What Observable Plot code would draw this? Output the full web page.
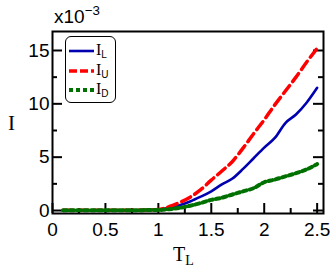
<!DOCTYPE html>
<html>
<head>
<meta charset="utf-8">
<script src="https://cdn.jsdelivr.net/npm/d3@7"></script>
<script src="https://cdn.jsdelivr.net/npm/@observablehq/plot@0.6"></script>
<style>
  html, body { margin: 0; padding: 0; background: #fff; }
  #wrap { position: relative; width: 332px; height: 274px; }
  .lbl { position: absolute; color: #000; white-space: nowrap; line-height: 1; }
  .serif { font-family: "Liberation Serif", "DejaVu Serif", serif; }
  .sans { font-family: "Liberation Sans", Arial, sans-serif; }
  #legend { position: absolute; left: 65px; top: 36px; width: 49px; height: 65px;
    border: 1.5px solid #000; border-radius: 6px; background: #fff; }
  #legend .row { position: absolute; left: 0; height: 18px; width: 49px; }
  #legend svg { position: absolute; left: 2px; top: 4px; }
  #legend .t { position: absolute; left: 30px; top: 0px; font-size: 16px; line-height: 1; }
  #legend .t sub { font-family: "Liberation Sans", Arial, sans-serif; font-size: 10px; vertical-align: -0.3em; }
  sub { font-size: 0.7em; vertical-align: -0.25em; }
  sup { font-size: 0.7em; vertical-align: 0.6em; }
</style>
</head>
<body>
<div id="wrap"></div>
<script>
const T  = [0.1,0.2,0.3,0.4,0.5,0.6,0.7,0.8,0.9,1.0,1.1,1.2,1.3,1.4,1.5,1.6,1.7,1.8,1.9,2.0,2.1,2.2,2.3,2.4,2.5];
const IL = [0.02,0.02,0.02,0.02,0.02,0.02,0.02,0.03,0.04,0.08,0.25,0.5,0.85,1.3,1.8,2.45,3.0,3.9,4.9,5.9,6.8,8.2,9.0,10.1,11.5];
const IU = [0.02,0.02,0.02,0.02,0.02,0.02,0.02,0.03,0.05,0.1,0.35,0.75,1.25,1.95,2.85,3.7,4.6,5.85,7.2,8.5,9.9,11.2,12.5,13.9,15.2];
const ID = [0.02,0.02,0.02,0.02,0.02,0.02,0.02,0.03,0.04,0.05,0.12,0.25,0.45,0.7,1.0,1.2,1.5,1.8,2.1,2.65,2.9,3.2,3.5,3.85,4.35];
const xMajor = [0,0.5,1,1.5,2,2.5];
const xMinor = [0.25,0.75,1.25,1.75,2.25];
const yMajor = [0,5,10,15];
const yMinor = [2.5,7.5,12.5];
const seriesNames = ["IL","IU","ID"];

const rows = (vals) => T.map((t,i) => ({t, v: vals[i]}));
const W = 332, H = 274, mL = 52, mR = 9, mT = 31, mB = 61;
const fh = H - mT - mB, fw = W - mL - mR;

const chart = Plot.plot({
  width: W, height: H,
  marginLeft: mL, marginRight: mR, marginTop: mT, marginBottom: mB,
  style: {fontFamily: "Liberation Sans, Arial, sans-serif", fontSize: "19px", background: "#fff", color: "#000"},
  x: {domain: [0, 2.56]},
  y: {domain: [-0.28, 16.78]},
  marks: [
    Plot.axisX(xMajor, {tickSize: 0, tickPadding: 9, label: null, tickFormat: d => String(d), fontSize: 19}),
    Plot.axisY(yMajor, {tickSize: 0, tickPadding: 3, label: null, tickFormat: d => String(d), fontSize: 19}),
    Plot.tickX(xMajor, {x: d => d, insetTop: fh - 10, stroke: "#000", strokeWidth: 2}),
    Plot.tickX(xMinor, {x: d => d, insetTop: fh - 5, stroke: "#000", strokeWidth: 2}),
    Plot.tickY(yMajor, {y: d => d, insetRight: fw - 10, stroke: "#000", strokeWidth: 2}),
    Plot.tickY(yMinor, {y: d => d, insetRight: fw - 5, stroke: "#000", strokeWidth: 2}),
    Plot.tickY(yMajor, {y: d => d, insetLeft: fw - 10, stroke: "#000", strokeWidth: 2}),
    Plot.tickY(yMinor, {y: d => d, insetLeft: fw - 5, stroke: "#000", strokeWidth: 2}),
    Plot.line(rows(IL), {x: "t", y: "v", stroke: "#0000b0", strokeWidth: 2.6, curve: "monotone-x"}),
    Plot.line(rows(IU), {x: "t", y: "v", stroke: "#ff0000", strokeWidth: 3.5, strokeDasharray: "10,5", curve: "monotone-x"}),
    Plot.line(rows(ID), {x: "t", y: "v", stroke: "#007000", strokeWidth: 4, strokeDasharray: "4,3", curve: "monotone-x"}),
    Plot.frame({stroke: "#000", strokeWidth: 2})
  ]
});

const wrap = document.getElementById("wrap");
wrap.appendChild(chart);

function addLabel(html, cls, left, top, size) {
  const d = document.createElement("div");
  d.className = "lbl " + cls;
  d.style.left = left + "px"; d.style.top = top + "px"; d.style.fontSize = size + "px";
  d.innerHTML = html;
  wrap.appendChild(d);
}
addLabel("x10<sup>&minus;3</sup>", "sans", 54, 4, 19);
addLabel("I", "serif", 8, 113, 21);
addLabel("T<sub>L</sub>", "serif", 173, 244, 20);

const legend = document.createElement("div");
legend.id = "legend";
const styles = [
  {stroke: "#0000b0", w: 2.6, dash: ""},
  {stroke: "#ff0000", w: 3.5, dash: "8,3"},
  {stroke: "#007000", w: 4, dash: "4,3"}
];
const subs = ["L","U","D"];
seriesNames.forEach((name, i) => {
  const row = document.createElement("div");
  row.className = "row";
  row.style.top = (5 + i * 19.5) + "px";
  const s = styles[i];
  row.innerHTML = `<svg width="26" height="10"><line x1="1" x2="26" y1="5" y2="5" stroke="${s.stroke}" stroke-width="${s.w}" stroke-dasharray="${s.dash}"/></svg>` +
    `<span class="t serif">I<sub>${subs[i]}</sub></span>`;
  legend.appendChild(row);
});
wrap.appendChild(legend);
</script>
</body>
</html>
